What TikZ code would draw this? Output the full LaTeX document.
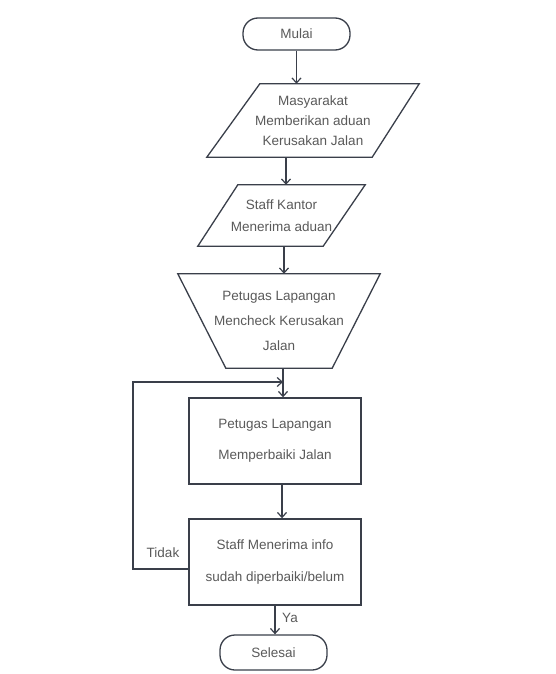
\documentclass[tikz,border=0pt]{standalone}
\usepackage{fontspec}
\setmainfont{Liberation Sans}
\usepackage{tikz}
\usetikzlibrary{arrows.meta}
\definecolor{garis}{HTML}{3A3F4A}
\definecolor{tulisan}{HTML}{5A5A5A}
\tikzset{%
  every box/.style={
    draw=none,
    inner sep=0pt,
    align=center,
    text=tulisan,
    font=\fontsize{13.5}{20}\selectfont
  },
  terminal/.style={
    every box,
    draw=garis,
    line width=1.3pt,
    rounded corners=15pt,
    minimum width=107pt
  },
  process/.style={
    every box,
    draw=garis,
    line width=1.4pt,
    minimum width=172pt,
    minimum height=86pt,
    font=\fontsize{13.5}{31}\selectfont
  },
  outline/.style={
    draw=garis,
    line width=1.3pt
  },
  flow/.style={
    draw=garis,
    line width=1.2pt,
    ->
  },
}

\begin{document}
\begin{tikzpicture}[> = {Straight Barb[length=5pt,width=9pt]}, x=1pt, y=-1pt]
\useasboundingbox[fill=white] (0,0) rectangle (555,674);
    % terminal dan proses
    \node[terminal, minimum height=32pt] (mulai) at (296.5,34) {Mulai};
    \node[every box, minimum width=212pt, minimum height=73pt] (aduan) at (313,120.5)
        {Masyarakat\\Memberikan aduan\\Kerusakan Jalan};
    \node[every box, minimum width=167pt, minimum height=61pt,
          font=\fontsize{13.5}{22}\selectfont] (terima) at (281.5,215.5)
        {Staff Kantor\\Menerima aduan};
    \node[every box, minimum width=202pt, minimum height=94pt,
          font=\fontsize{13.5}{25}\selectfont] (cek) at (279,321)
        {Petugas Lapangan\\Mencheck Kerusakan\\Jalan};
    \node[process] (perbaiki) at (275,441) {Petugas Lapangan\\Memperbaiki Jalan};
    \node[process, font=\fontsize{13.5}{32}\selectfont] (info) at (275,562)
        {Staff Menerima info\\sudah diperbaiki/belum};
    \node[terminal, minimum height=35pt] (selesai) at (273.5,652.5) {Selesai};

    % bentuk input dan manual
    \draw[outline] ([xshift=53pt]aduan.north west) -- (aduan.north east)
        -- ([xshift=-47pt]aduan.south east) -- (aduan.south west) -- cycle;
    \draw[outline] ([xshift=40pt]terima.north west) -- (terima.north east)
        -- ([xshift=-42pt]terima.south east) -- (terima.south west) -- cycle;
    \draw[outline] (cek.north west) -- (cek.north east)
        -- ([xshift=-48pt]cek.south east) -- ([xshift=48pt]cek.south west) -- cycle;

    % label
    \node[every box] (tidak) at (163,553) {Tidak};
    \node[every box] (ya) at (290,618) {Ya};

    % panah
    \coordinate (cekpanah) at ([xshift=4pt]cek.south);
    \coordinate (balik) at (133,382);
    \draw[flow] (mulai.south) -- (mulai.south |- aduan.north);
    \draw[flow] ([xshift=4.5pt]terima.north |- aduan.south) -- ([xshift=4.5pt]terima.north);
    \draw[flow] ([xshift=2.5pt]terima.south) -- ([xshift=2.5pt]terima.south |- cek.north);
    \draw[flow] (cekpanah) -- (cekpanah |- perbaiki.north);
    \draw[flow] ([xshift=7pt]perbaiki.south) -- ([xshift=7pt]info.north);
    \draw[flow] ([yshift=-7pt]info.west) -| (balik) -- (balik -| cekpanah);
    \draw[flow] (info.south) -- (info.south |- selesai.north);
\end{tikzpicture}
\end{document}
